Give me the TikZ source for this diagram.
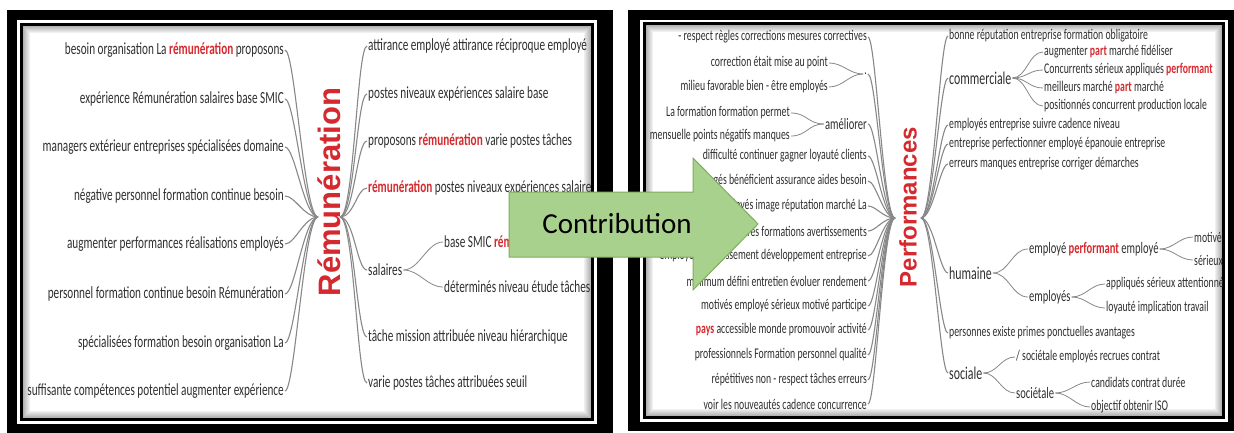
\documentclass[tikz,border=0pt]{standalone}
\usepackage{fontspec}
\usepackage{xcolor}
\usepackage{tikz}
\usetikzlibrary{calc}
\newfontfamily\mapfont[FakeStretch=0.66]{Carlito}
\newfontfamily\arrowfont{Carlito}
\newfontfamily\labelfont{Liberation Sans}
\definecolor{word-color}{HTML}{2F2F2F}
\definecolor{topic-red}{HTML}{D42A2F}
\definecolor{branch-color}{HTML}{888888}
\definecolor{arrow-fill}{HTML}{A9D18E}
\definecolor{arrow-line}{HTML}{7DAE5A}
\newcommand{\redword}[1]{\textcolor{topic-red}{\bfseries #1}}
\tikzset{
    leaf-big/.style = {font=\mapfont\fontsize{17}{18}\selectfont, text=word-color, inner sep=1pt},
    leaf/.style = {font=\mapfont\fontsize{14.8}{15}\selectfont, text=word-color, inner sep=1pt},
    sub/.style = {font=\mapfont\fontsize{16}{17}\selectfont, text=word-color, inner sep=1pt},
    topic/.style = {font=\mapfont\fontsize{18}{19}\selectfont, text=word-color, inner sep=1pt},
    center-label/.style = {text=topic-red, rotate=90, inner sep=0pt},
    branch/.style = {draw=branch-color, line width=1.1pt},
    twig/.style = {draw=branch-color, line width=0.8pt},
}
\begin{document}
\begin{tikzpicture}[x=1pt,y=-1pt]
\clip (0,0) rectangle (1234,432);
\fill[white] (0,0) rectangle (1234,432);

\fill[black] (7,10) rectangle (613,434);
\fill[white] (17,20) rectangle (597,424);
\fill[black] (20,23) rectangle (594,421);
\fill[white] (23,26) rectangle (591,418);
\foreach \i in {0,...,6}
    \draw[black, opacity={0.3-0.04*\i}, line width=1pt] (23.5+\i,26.5+\i) rectangle (590.5-\i,417.5-\i);

\fill[black] (628,10) rectangle (1240,431);
\fill[white] (640,20) rectangle (1228,422);
\fill[black] (643,22) rectangle (1225,419);
\fill[white] (646,25) rectangle (1222,416);
\foreach \i in {0,...,6}
    \draw[black, opacity={0.3-0.04*\i}, line width=1pt] (646.5+\i,25.5+\i) rectangle (1221.5-\i,415.5-\i);

\begin{scope}
    \clip (23,26) rectangle (591,418);
    \node[center-label, font=\labelfont\bfseries\fontsize{31}{31}\selectfont] (rem) at (329,192) {Rémunération};
    \coordinate (remW) at (318,217);
    \coordinate (remE) at (340,217);

    \node[leaf-big, anchor=east] (l1) at (285,50) {besoin organisation La \redword{rémunération} proposons};
    \node[leaf-big, anchor=east] (l2) at (285,99) {expérience Rémunération salaires base SMIC};
    \node[leaf-big, anchor=east] (l3) at (285,147) {managers extérieur entreprises spécialisées domaine};
    \node[leaf-big, anchor=east] (l4) at (285,196) {négative personnel formation continue besoin};
    \node[leaf-big, anchor=east] (l5) at (285,244) {augmenter performances réalisations employés};
    \node[leaf-big, anchor=east] (l6) at (285,294) {personnel formation continue besoin Rémunération};
    \node[leaf-big, anchor=east] (l7) at (285,343) {spécialisées formation besoin organisation La};
    \node[leaf-big, anchor=east] (l8) at (285,391) {suffisante compétences potentiel augmenter expérience};

    \node[leaf-big, anchor=west] (r1) at (367,46) {attirance employé attirance réciproque employé};
    \node[leaf-big, anchor=west] (r2) at (367,94) {postes niveaux expériences salaire base};
    \node[leaf-big, anchor=west] (r3) at (367,141) {proposons \redword{rémunération} varie postes tâches};
    \node[leaf-big, anchor=west] (r4) at (367,188) {\redword{rémunération} postes niveaux expériences salaire};
    \node[leaf-big, anchor=west] (sal) at (367,270) {salaires};
    \node[leaf-big, anchor=west] (s1) at (443,242) {base SMIC \redword{rémunération}};
    \node[leaf-big, anchor=west] (s2) at (443,287) {déterminés niveau étude tâches};
    \node[leaf-big, anchor=west] (r5) at (367,337) {tâche mission attribuée niveau hiérarchique};
    \node[leaf-big, anchor=west] (r6) at (367,383) {varie postes tâches attribuées seuil};

    \draw[branch] (l1.east) .. controls +(10,0) and +(-14,0) .. (remW);
    \draw[branch] (l2.east) .. controls +(10,0) and +(-14,0) .. (remW);
    \draw[branch] (l3.east) .. controls +(10,0) and +(-14,0) .. (remW);
    \draw[branch] (l4.east) .. controls +(10,0) and +(-14,0) .. (remW);
    \draw[branch] (l5.east) .. controls +(10,0) and +(-14,0) .. (remW);
    \draw[branch] (l6.east) .. controls +(10,0) and +(-14,0) .. (remW);
    \draw[branch] (l7.east) .. controls +(10,0) and +(-14,0) .. (remW);
    \draw[branch] (l8.east) .. controls +(10,0) and +(-14,0) .. (remW);

    \draw[branch] (remE) .. controls +(14,0) and +(-10,0) .. (r1.west);
    \draw[branch] (remE) .. controls +(14,0) and +(-10,0) .. (r2.west);
    \draw[branch] (remE) .. controls +(14,0) and +(-10,0) .. (r3.west);
    \draw[branch] (remE) .. controls +(14,0) and +(-10,0) .. (r4.west);
    \draw[branch] (remE) .. controls +(14,0) and +(-10,0) .. (sal.west);
    \draw[branch] (remE) .. controls +(14,0) and +(-10,0) .. (r5.west);
    \draw[branch] (remE) .. controls +(14,0) and +(-10,0) .. (r6.west);
    \draw[twig] (sal.east) .. controls +(16,0) and +(-16,0) .. (s1.west);
    \draw[twig] (sal.east) .. controls +(16,0) and +(-16,0) .. (s2.west);
\end{scope}

\begin{scope}
    \clip (646,25) rectangle (1222,416);
    \node[center-label, font=\labelfont\bfseries\fontsize{24}{24}\selectfont] (perf) at (908,207) {Performances};
    \coordinate (perW) at (895,218);
    \coordinate (perE) at (921,218);

    \node[leaf, anchor=east] (p1) at (868,37) {- respect règles corrections mesures correctives};
    \node[leaf, anchor=east] (dotgrp) at (868,74) {.};
    \node[leaf, anchor=east] (d1) at (829,63) {correction était mise au point};
    \node[leaf, anchor=east] (d2) at (829,87) {milieu favorable bien - être employés};
    \node[sub, anchor=east] (am) at (868,124) {améliorer};
    \node[leaf, anchor=east] (a1) at (791,113) {La formation formation permet};
    \node[leaf, anchor=east] (a2) at (791,136) {mensuelle points négatifs manques};
    \node[leaf, anchor=east] (p2) at (868,156) {difficulté continuer gagner loyauté clients};
    \node[leaf, anchor=east] (p3) at (868,181) {engagés bénéficient assurance aides besoin};
    \node[leaf, anchor=east] (p4) at (868,206) {employés image réputation marché La};
    \node[leaf, anchor=east] (p5) at (868,231) {mesures formations avertissements};
    \node[leaf, anchor=east] (p6) at (868,256) {employés investissement développement entreprise};
    \node[leaf, anchor=east] (p7) at (868,281) {minimum défini entretien évoluer rendement};
    \node[leaf, anchor=east] (p8) at (868,306) {motivés employé sérieux motivé participe};
    \node[leaf, anchor=east] (p9) at (868,330) {\redword{pays} accessible monde promouvoir activité};
    \node[leaf, anchor=east] (p10) at (868,355) {professionnels Formation personnel qualité};
    \node[leaf, anchor=east] (p11) at (868,380) {répétitives non - respect tâches erreurs};
    \node[leaf, anchor=east] (p12) at (868,404) {voir les nouveautés cadence concurrence};

    \node[leaf, anchor=west] (q1) at (948,36) {bonne réputation entreprise formation obligatoire};
    \node[topic, anchor=west] (com) at (948,78) {commerciale};
    \node[leaf, anchor=west] (c1) at (1043,52) {augmenter \redword{part} marché fidéliser};
    \node[leaf, anchor=west] (c2) at (1043,70) {Concurrents sérieux appliqués \redword{performant}};
    \node[leaf, anchor=west] (c3) at (1043,88) {meilleurs marché \redword{part} marché};
    \node[leaf, anchor=west] (c4) at (1043,106) {positionnés concurrent production locale};
    \node[leaf, anchor=west] (q2) at (948,125) {employés entreprise suivre cadence niveau};
    \node[leaf, anchor=west] (q3) at (948,144) {entreprise perfectionner employé épanouie entreprise};
    \node[leaf, anchor=west] (q4) at (948,164) {erreurs manques entreprise corriger démarches};
    \node[topic, anchor=west] (hum) at (948,273) {humaine};
    \node[sub, anchor=west] (h1) at (1028,249) {employé \redword{performant} employé};
    \node[leaf, anchor=west] (h11) at (1193,237) {motivé};
    \node[leaf, anchor=west] (h12) at (1193,260) {sérieux};
    \node[sub, anchor=west] (h2) at (1028,297) {employés};
    \node[leaf, anchor=west] (h21) at (1105,284) {appliqués sérieux attentionné};
    \node[leaf, anchor=west] (h22) at (1105,308) {loyauté implication travail};
    \node[leaf, anchor=west] (q5) at (948,333) {personnes existe primes ponctuelles avantages};
    \node[topic, anchor=west] (soc) at (948,373) {sociale};
    \node[leaf, anchor=west] (o1) at (1015,357) {/ sociétale employés recrues contrat};
    \node[sub, anchor=west] (o2) at (1015,393) {sociétale};
    \node[leaf, anchor=west] (o21) at (1090,382) {candidats contrat durée};
    \node[leaf, anchor=west] (o22) at (1090,407) {objectif obtenir ISO};

    \draw[branch] (p1.east) .. controls +(8,0) and +(-12,0) .. (perW);
    \draw[branch] (dotgrp.east) .. controls +(8,0) and +(-12,0) .. (perW);
    \draw[branch] (am.east) .. controls +(8,0) and +(-12,0) .. (perW);
    \draw[branch] (p2.east) .. controls +(8,0) and +(-12,0) .. (perW);
    \draw[branch] (p3.east) .. controls +(8,0) and +(-12,0) .. (perW);
    \draw[branch] (p4.east) .. controls +(8,0) and +(-12,0) .. (perW);
    \draw[branch] (p5.east) .. controls +(8,0) and +(-12,0) .. (perW);
    \draw[branch] (p6.east) .. controls +(8,0) and +(-12,0) .. (perW);
    \draw[branch] (p7.east) .. controls +(8,0) and +(-12,0) .. (perW);
    \draw[branch] (p8.east) .. controls +(8,0) and +(-12,0) .. (perW);
    \draw[branch] (p9.east) .. controls +(8,0) and +(-12,0) .. (perW);
    \draw[branch] (p10.east) .. controls +(8,0) and +(-12,0) .. (perW);
    \draw[branch] (p11.east) .. controls +(8,0) and +(-12,0) .. (perW);
    \draw[branch] (p12.east) .. controls +(8,0) and +(-12,0) .. (perW);
    \draw[twig] (d1.east) .. controls +(14,0) and +(-14,0) .. (dotgrp.west);
    \draw[twig] (d2.east) .. controls +(14,0) and +(-14,0) .. (dotgrp.west);
    \draw[twig] (a1.east) .. controls +(16,0) and +(-16,0) .. (am.west);
    \draw[twig] (a2.east) .. controls +(16,0) and +(-16,0) .. (am.west);

    \draw[branch] (perE) .. controls +(12,0) and +(-8,0) .. (q1.west);
    \draw[branch] (perE) .. controls +(12,0) and +(-8,0) .. (com.west);
    \draw[branch] (perE) .. controls +(12,0) and +(-8,0) .. (q2.west);
    \draw[branch] (perE) .. controls +(12,0) and +(-8,0) .. (q3.west);
    \draw[branch] (perE) .. controls +(12,0) and +(-8,0) .. (q4.west);
    \draw[branch] (perE) .. controls +(12,0) and +(-8,0) .. (hum.west);
    \draw[branch] (perE) .. controls +(12,0) and +(-8,0) .. (q5.west);
    \draw[branch] (perE) .. controls +(12,0) and +(-8,0) .. (soc.west);
    \draw[twig] (com.east) .. controls +(14,0) and +(-14,0) .. (c1.west);
    \draw[twig] (com.east) .. controls +(14,0) and +(-14,0) .. (c2.west);
    \draw[twig] (com.east) .. controls +(14,0) and +(-14,0) .. (c3.west);
    \draw[twig] (com.east) .. controls +(14,0) and +(-14,0) .. (c4.west);
    \draw[twig] (hum.east) .. controls +(16,0) and +(-16,0) .. (h1.west);
    \draw[twig] (hum.east) .. controls +(16,0) and +(-16,0) .. (h2.west);
    \draw[twig] (h1.east) .. controls +(14,0) and +(-14,0) .. (h11.west);
    \draw[twig] (h1.east) .. controls +(14,0) and +(-14,0) .. (h12.west);
    \draw[twig] (h2.east) .. controls +(14,0) and +(-14,0) .. (h21.west);
    \draw[twig] (h2.east) .. controls +(14,0) and +(-14,0) .. (h22.west);
    \draw[twig] (soc.east) .. controls +(14,0) and +(-14,0) .. (o1.west);
    \draw[twig] (soc.east) .. controls +(14,0) and +(-14,0) .. (o2.west);
    \draw[twig] (o2.east) .. controls +(14,0) and +(-14,0) .. (o21.west);
    \draw[twig] (o2.east) .. controls +(14,0) and +(-14,0) .. (o22.west);
\end{scope}

\fill[arrow-fill, draw=arrow-line, line width=1pt] (509,192) -- (693,192) -- (693,158) -- (758,224) -- (693,290) -- (693,257) -- (509,257) -- cycle;
\node[font=\arrowfont\fontsize{29}{29}\selectfont, text=black, anchor=base] (contrib) at (617,233) {Contribution};
\end{tikzpicture}
\end{document}
